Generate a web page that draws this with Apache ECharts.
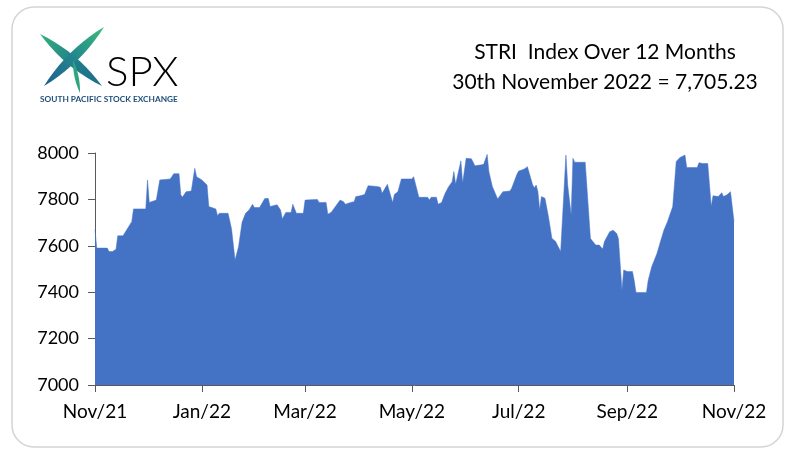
<!DOCTYPE html>
<html>
<head>
<meta charset="utf-8">
<script src="https://cdn.jsdelivr.net/npm/echarts@6/dist/echarts.min.js"></script>
<style>
  html, body { margin: 0; padding: 0; background: #fff; }
  #stri-area { width: 785px; height: 453px; }
</style>
</head>
<body>
<div id="stri-area"></div>
<script>
// STRI index, 30 Nov 2021 - 30 Nov 2022
var dates = [
  '2021-11-30','2021-12-01','2021-12-07','2021-12-08','2021-12-10','2021-12-12','2021-12-13','2021-12-14',
  '2021-12-16','2021-12-21','2021-12-22','2021-12-29','2021-12-30','2021-12-31','2022-01-04','2022-01-06',
  '2022-01-12','2022-01-14','2022-01-17','2022-01-18','2022-01-19','2022-01-21','2022-01-24','2022-01-26',
  '2022-01-27','2022-01-30','2022-02-02','2022-02-03','2022-02-07','2022-02-08','2022-02-09','2022-02-14',
  '2022-02-15','2022-02-16','2022-02-18','2022-02-20','2022-02-22','2022-02-24','2022-02-26','2022-02-28',
  '2022-03-01','2022-03-04','2022-03-07','2022-03-09','2022-03-10','2022-03-14','2022-03-16','2022-03-17',
  '2022-03-19','2022-03-22','2022-03-23','2022-03-24','2022-03-25','2022-03-29','2022-03-30','2022-03-31',
  '2022-04-06','2022-04-07','2022-04-11','2022-04-12','2022-04-14','2022-04-19','2022-04-21','2022-04-22',
  '2022-04-25','2022-04-27','2022-04-28','2022-04-30','2022-05-03','2022-05-05','2022-05-10','2022-05-12',
  '2022-05-13','2022-05-16','2022-05-19','2022-05-20','2022-05-22','2022-05-23','2022-05-24','2022-05-30',
  '2022-05-31','2022-06-01','2022-06-03','2022-06-08','2022-06-09','2022-06-10','2022-06-13','2022-06-14',
  '2022-06-16','2022-06-18','2022-06-20','2022-06-22','2022-06-23','2022-06-24','2022-06-27','2022-06-28',
  '2022-06-29','2022-06-30','2022-07-03','2022-07-05','2022-07-08','2022-07-10','2022-07-11','2022-07-12',
  '2022-07-13','2022-07-15','2022-07-18','2022-07-19','2022-07-21','2022-07-25','2022-07-26','2022-07-27',
  '2022-07-29','2022-07-30','2022-08-02','2022-08-04','2022-08-05','2022-08-07','2022-08-08','2022-08-09',
  '2022-08-10','2022-08-11','2022-08-12','2022-08-14','2022-08-16','2022-08-17','2022-08-18','2022-08-20',
  '2022-08-23','2022-08-24','2022-08-26','2022-08-27','2022-08-29','2022-08-30','2022-08-31','2022-09-06',
  '2022-09-09','2022-09-12','2022-09-14','2022-09-15','2022-09-16','2022-09-17','2022-09-20','2022-09-21',
  '2022-09-22','2022-09-24','2022-09-25','2022-09-27','2022-09-28','2022-09-29','2022-09-30','2022-10-03',
  '2022-10-04','2022-10-05','2022-10-11','2022-10-12','2022-10-13','2022-10-14','2022-10-17','2022-10-18',
  '2022-10-19','2022-10-21','2022-10-23','2022-10-26','2022-10-27','2022-10-28','2022-10-30','2022-11-02',
  '2022-11-03','2022-11-09','2022-11-10','2022-11-12','2022-11-15','2022-11-17','2022-11-18','2022-11-21',
  '2022-11-23','2022-11-24','2022-11-26','2022-11-28','2022-11-29','2022-11-30'
];
var values = [
  7670,7590,7590,7575,7575,7585,7643,7637,
  7643,7704,7759,7759,7884,7787,7797,7884,
  7888,7911,7911,7819,7810,7833,7836,7934,
  7898,7884,7862,7769,7759,7730,7740,7740,
  7707,7672,7539,7596,7701,7740,7754,7779,
  7765,7765,7804,7804,7769,7777,7754,7716,
  7744,7744,7779,7777,7740,7740,7797,7804,
  7800,7787,7787,7736,7745,7797,7790,7779,
  7787,7790,7812,7815,7821,7859,7856,7852,
  7826,7865,7787,7821,7833,7840,7888,7888,
  7898,7890,7809,7809,7797,7809,7809,7779,
  7787,7826,7855,7876,7920,7865,7966,7870,
  7869,7977,7975,7945,7948,7951,7951,7994,
  7919,7855,7802,7805,7833,7836,7848,7840,
  7908,7922,7930,7941,7936,7862,7850,7862,
  7833,7754,7812,7805,7726,7720,7632,7620,
  7575,7575,7991,7862,7733,7977,7960,7960,
  7632,7603,7603,7610,7586,7618,7661,7655,
  7667,7653,7630,7410,7496,7503,7489,7489,
  7450,7399,7399,7452,7445,7510,7567,7560,
  7618,7668,7704,7769,7775,7963,7980,7991,
  7937,7937,7958,7955,7955,7769,7816,7812,
  7829,7812,7820,7833,7833,7705
];

var tickDates  = ['2021-11-30','2022-01-30','2022-03-30','2022-05-30','2022-07-30','2022-09-30','2022-11-30'];
var tickLabels = ['Nov/21','Jan/22','Mar/22','May/22','Jul/22','Sep/22','Nov/22'];

var titleLines = ['STRI  Index Over 12 Months', '30th November 2022 = 7,705.23'];

function toTime(s) {
  var p = s.split('-');
  return new Date(+p[0], +p[1] - 1, +p[2]).getTime();
}

// leaf shape for the logo: two quadratic curves between tips, sampled into a polygon
function leaf(x0, y0, x1, y1, w) {
  var mx = (x0 + x1) / 2, my = (y0 + y1) / 2;
  var dx = x1 - x0, dy = y1 - y0, len = Math.sqrt(dx * dx + dy * dy);
  var px = -dy / len * w, py = dx / len * w;
  var pts = [], t, c;
  for (t = 0; t <= 1.0001; t += 0.1) {
    c = [mx + px, my + py];
    pts.push([(1-t)*(1-t)*x0 + 2*t*(1-t)*c[0] + t*t*x1, (1-t)*(1-t)*y0 + 2*t*(1-t)*c[1] + t*t*y1]);
  }
  for (t = 1; t >= -0.0001; t -= 0.1) {
    c = [mx - px, my - py];
    pts.push([(1-t)*(1-t)*x0 + 2*t*(1-t)*c[0] + t*t*x1, (1-t)*(1-t)*y0 + 2*t*(1-t)*c[1] + t*t*y1]);
  }
  return pts;
}

var seriesData = dates.map(function (d, i) { return [toTime(d), values[i]]; });
var tickTimes = tickDates.map(toTime);
var labelOf = {};
tickTimes.forEach(function (t, i) { labelOf[t] = tickLabels[i]; });

var font = 'Lato, "Open Sans", sans-serif';
var chart = echarts.init(document.getElementById('stri-area'));

chart.setOption({
  animation: false,
  backgroundColor: '#ffffff',
  grid: { left: 95, right: 51, top: 153, bottom: 68, containLabel: false, outerBoundsMode: 'none' },
  xAxis: {
    type: 'value',
    min: tickTimes[0],
    max: tickTimes[tickTimes.length - 1],
    axisLine: { show: true, lineStyle: { color: '#595959', width: 1 } },
    axisTick: { show: true, length: 7, customValues: tickTimes, lineStyle: { color: '#595959' } },
    axisLabel: {
      customValues: tickTimes,
      margin: 17,
      fontSize: 19,
      color: '#000',
      fontFamily: font,
      showMinLabel: true,
      showMaxLabel: true,
      hideOverlap: false,
      formatter: function (v) { return labelOf[v] || ''; }
    },
    splitLine: { show: false }
  },
  yAxis: {
    type: 'value',
    min: 7000,
    max: 8000,
    interval: 200,
    axisLine: { show: true, lineStyle: { color: '#595959', width: 1 } },
    axisTick: { show: true, length: 7, lineStyle: { color: '#595959' } },
    axisLabel: { fontSize: 18, color: '#000', fontFamily: font, margin: 16,
      formatter: function (v) { return String(v); } },
    splitLine: { show: false }
  },
  series: [{
    type: 'line',
    data: seriesData,
    showSymbol: false,
    lineStyle: { width: 0.5, color: '#4472C4' },
    areaStyle: { color: '#4472C4', opacity: 1, origin: 'start' },
    z: 1
  }],
  graphic: [
    // rounded outer frame
    { type: 'rect', shape: { x: 12, y: 7, width: 771, height: 440, r: 22 },
      style: { fill: 'none', stroke: '#d4d4d4', lineWidth: 1.5 }, z: -10 },
    // title
    { type: 'text', x: 605, y: 52, style: { text: titleLines[0], fontSize: 21, fontFamily: font,
      fill: '#000', align: 'center', verticalAlign: 'middle' } },
    { type: 'text', x: 605, y: 82, style: { text: titleLines[1], fontSize: 21, fontFamily: font,
      fill: '#000', align: 'center', verticalAlign: 'middle' } },
    // logo mark
    { type: 'polygon', shape: { points: leaf(40, 34, 102, 86, 10) },
      style: { fill: { type: 'linear', x: 0, y: 0, x2: 1, y2: 1, colorStops: [
        { offset: 0, color: '#35b17a' }, { offset: 0.55, color: '#1f7f8c' }, { offset: 1, color: '#1d6a8c' }] } } },
    { type: 'polygon', shape: { points: leaf(104, 27, 44, 86, 10) },
      style: { fill: { type: 'linear', x: 1, y: 0, x2: 0, y2: 1, colorStops: [
        { offset: 0, color: '#3dbb78' }, { offset: 0.5, color: '#23878d' }, { offset: 1, color: '#1e5d8e' }] } } },
    { type: 'polygon', shape: { points: leaf(73, 60, 80, 93, 4) },
      style: { fill: '#2fa57e' } },
    // logo text
    { type: 'text', x: 106, y: 93, style: { text: 'SPX', fontSize: 42, fontFamily: font, fontWeight: 300,
      verticalAlign: 'bottom',
      fill: { type: 'linear', x: 0, y: 0, x2: 1, y2: 0, colorStops: [
        { offset: 0, color: '#2a7fa3' }, { offset: 1, color: '#3cc07a' }] } } },
    { type: 'text', x: 40, y: 99, style: { text: 'SOUTH PACIFIC STOCK EXCHANGE', fontSize: 8.3,
      fontWeight: 'bold', fontFamily: font, fill: '#1f4e79', verticalAlign: 'middle' } }
  ]
});
</script>
</body>
</html>
